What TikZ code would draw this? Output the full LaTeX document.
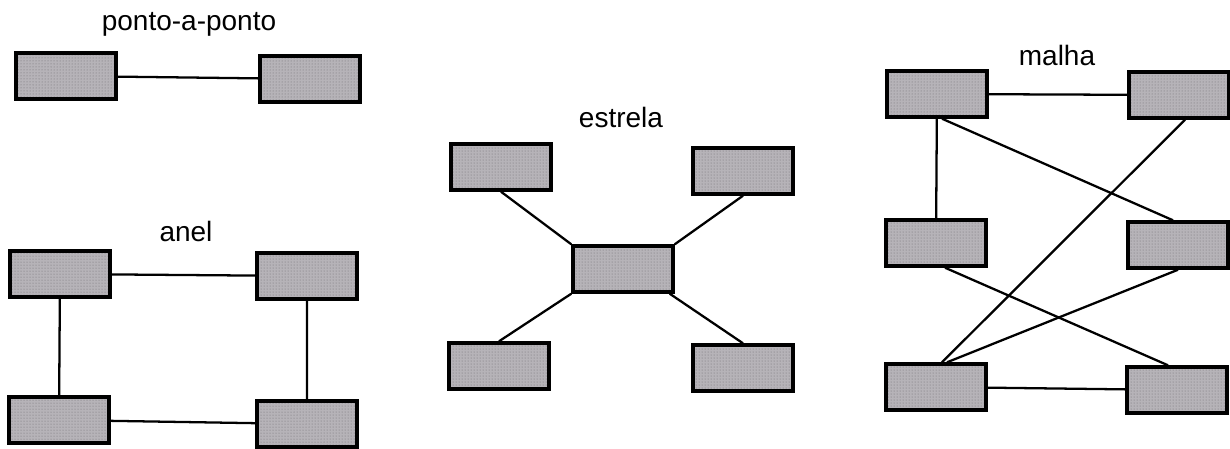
\documentclass[tikz,border=0pt]{standalone}
\usepackage{fontspec}
\setmainfont{Liberation Sans}
\usetikzlibrary{patterns}
\definecolor{boxGray} {RGB}{182, 179, 184}
\definecolor{dotGray} {RGB}{110, 108, 112}

\tikzset{
  station/.style={draw=black, line width=1.2mm, preaction={fill=boxGray},
    pattern=dots, pattern color=dotGray,
    minimum width=100pt, minimum height=46pt, inner sep=0pt},
  link/.style={draw=black, line width=0.8mm},
  caption/.style={anchor=base, font=\fontsize{28}{34}\selectfont}
}

\begin{document}
\begin{tikzpicture}[x=1pt, y=-1pt]
  \useasboundingbox (0,0) rectangle (1230,448);

  % ponto-a-ponto
  \node[caption] at (189,30) {ponto-a-ponto};
  \node[station] (P1) at (66,76)  {};
  \node[station] (P2) at (310,79) {};
  \path[link] (P1) -- (P2);

  % anel
  \node[caption] at (186,241) {anel};
  \node[station] (A1) at (60,274)  {};
  \node[station] (A2) at (307,276) {};
  \node[station] (A3) at (59,420)  {};
  \node[station] (A4) at (307,424) {};
  \path[link] (A1) -- (A2) -- (A4) -- (A3) -- (A1);

  % estrela
  \node[caption] at (621,127) {estrela};
  \node[station] (E0) at (623,269) {};
  \node[station] (E1) at (501,167) {};
  \node[station] (E2) at (743,171) {};
  \node[station] (E3) at (499,366) {};
  \node[station] (E4) at (743,368) {};
  \path[link] (E1.south) -- (E0.north west);
  \path[link] (E2.south) -- (E0.north east);
  \path[link] (E3.north) -- (E0.south west);
  \path[link] (E4.north) -- ([xshift=-5pt]E0.south east);

  % malha
  \node[caption] at (1057,65) {malha};
  \node[station] (M1) at (937,94)   {};
  \node[station] (M2) at (1179,95)  {};
  \node[station] (M3) at (936,243)  {};
  \node[station] (M4) at (1178,245) {};
  \node[station] (M5) at (936,387)  {};
  \node[station] (M6) at (1177,390) {};
  \path[link] (M1) -- (M2);
  \path[link] (M1) -- (M3);
  \path[link] (M5) -- (M6);
  \path[link] ([xshift=5pt]M1.south) -- ([xshift=-5pt]M4.north);
  \path[link] ([xshift=6pt]M2.south) -- ([xshift=6pt]M5.north);
  \path[link] (M4.south) -- ([xshift=11pt]M5.north);
  \path[link] ([xshift=9pt]M3.south) -- ([xshift=-9pt]M6.north);
\end{tikzpicture}
\end{document}
